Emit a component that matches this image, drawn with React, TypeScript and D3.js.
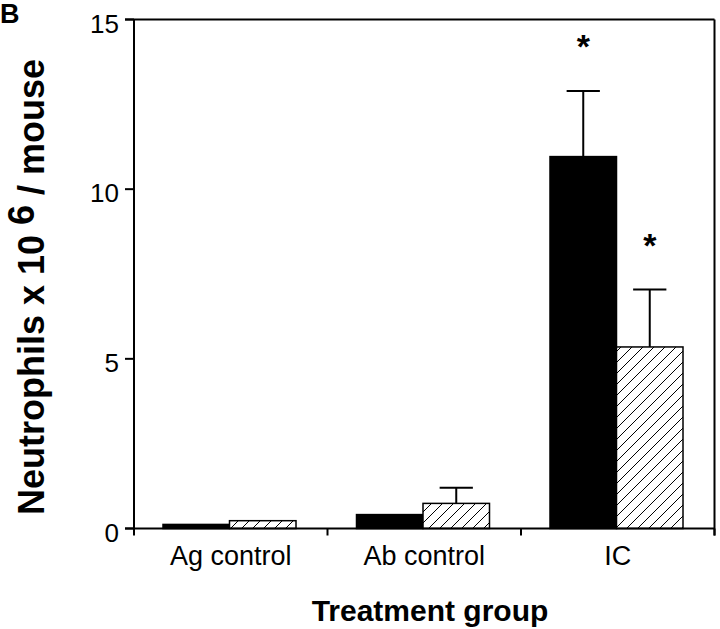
import React from "react";
import * as d3 from "d3";

const categories = ["Ag control", "Ab control", "IC"];
const seriesKeys = ["solid", "hatched"];
const solidValues = [0.12, 0.41, 10.96];
const solidErrors = [0, 0, 1.93];
const hatchedValues = [0.23, 0.74, 5.35];
const hatchedErrors = [0, 0.46, 1.69];
const solidStar = [false, false, true];
const hatchedStar = [false, false, true];
const yTicks = [0, 5, 10, 15];

const W = 720;
const H = 629;
const left = 134;
const right = 714.5;
const top = 19.5;
const bottom = 528.5;

export default function App() {
  const x = d3.scaleBand<string>().domain(categories).range([left, right]).padding(0);
  const y = d3.scaleLinear().domain([0, 15]).range([bottom, top]);
  const inner = d3.scaleBand<string>().domain(seriesKeys).range([29, 29 + 133]).padding(0);
  const bw = inner.bandwidth();

  const series = [
    { key: "solid", values: solidValues, errors: solidErrors, stars: solidStar },
    { key: "hatched", values: hatchedValues, errors: hatchedErrors, stars: hatchedStar },
  ];

  const boundaries = [...categories.map((c) => x(c)!), right];

  return (
    <svg width={W} height={H} style={{ position: "absolute", left: 0, top: 0, background: "#fff" }}>
      <defs>
        <pattern id="hatch" patternUnits="userSpaceOnUse" width={11} height={11}>
          <rect width={11} height={11} fill="#fff" />
          <path d="M0,11 L11,0 M-2.75,2.75 L2.75,-2.75 M8.25,13.75 L13.75,8.25" stroke="#000" strokeWidth={1} />
        </pattern>
      </defs>
      <text x={0} y={23} fontFamily="Liberation Sans, Arial, sans-serif" fontWeight="bold" fontSize={27}>B</text>

      {/* bars */}
      {series.map((s) =>
        categories.map((c, i) => {
          const bx = x(c)! + inner(s.key)!;
          const v = s.values[i];
          const e = s.errors[i];
          const cx = bx + bw / 2;
          return (
            <g key={s.key + c}>
              {e > 0 && (
                <g stroke="#000" strokeWidth={2}>
                  <line x1={cx} x2={cx} y1={y(v)} y2={y(v + e)} />
                  <line x1={cx - bw / 4} x2={cx + bw / 4} y1={y(v + e)} y2={y(v + e)} />
                </g>
              )}
              <rect
                x={bx}
                y={y(v)}
                width={bw}
                height={bottom - y(v)}
                fill={s.key === "solid" ? "#000" : "url(#hatch)"}
                stroke="#000"
                strokeWidth={1.5}
              />
              {s.stars[i] && (
                <text
                  x={cx}
                  y={y(v + e) - 33}
                  textAnchor="middle"
                  fontFamily="Liberation Sans, Arial, sans-serif"
                  fontWeight="bold"
                  fontSize={34}
                >
                  *
                </text>
              )}
            </g>
          );
        })
      )}

      {/* frame */}
      <g stroke="#000" strokeWidth={2} fill="none">
        <line x1={left} x2={left} y1={top} y2={bottom + 6} />
        <line x1={left - 9} x2={right} y1={top} y2={top} />
        <line x1={right} x2={right} y1={top} y2={bottom + 7} />
        <line x1={left - 9} x2={right} y1={bottom} y2={bottom} />
        {yTicks.map((t) => (
          <line key={t} x1={left - 9} x2={left} y1={y(t)} y2={y(t)} />
        ))}
        {boundaries.map((b, i) => (
          <line key={i} x1={b} x2={b} y1={bottom} y2={bottom + 7} />
        ))}
      </g>

      {/* y tick labels */}
      {yTicks.map((t) => (
        <text
          key={t}
          x={119}
          y={y(t) + 13}
          textAnchor="end"
          fontFamily="Liberation Sans, Arial, sans-serif"
          fontSize={26}
        >
          {t}
        </text>
      ))}

      {/* x labels */}
      {categories.map((c) => (
        <text
          key={c}
          x={x(c)! + x.bandwidth() / 2}
          y={565}
          textAnchor="middle"
          fontFamily="Liberation Sans, Arial, sans-serif"
          fontSize={27}
        >
          {c}
        </text>
      ))}

      <text
        x={430}
        y={621}
        textAnchor="middle"
        fontFamily="Liberation Sans, Arial, sans-serif"
        fontWeight="bold"
        fontSize={30}
      >
        Treatment group
      </text>

      <text
        transform="translate(44,287) rotate(-90)"
        textAnchor="middle"
        fontFamily="Liberation Sans, Arial, sans-serif"
        fontWeight="bold"
        fontSize={36}
      >
        Neutrophils x 10 <tspan dy={-10}>6</tspan>
        <tspan dy={10}> / mouse</tspan>
      </text>
    </svg>
  );
}
